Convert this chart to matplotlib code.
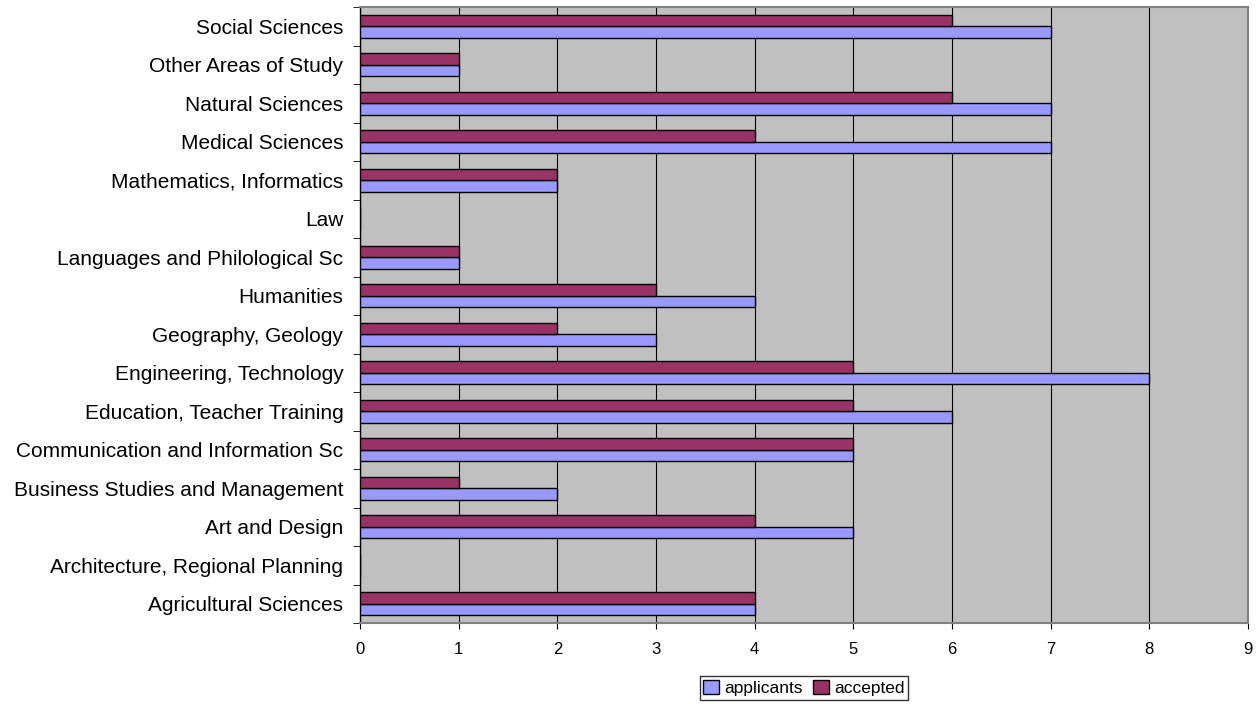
import numpy as np
import matplotlib.pyplot as plt

plt.rcParams['font.family'] = ['Liberation Sans', 'DejaVu Sans']

categories = ['Agricultural Sciences', 'Architecture, Regional Planning', 'Art and Design',
              'Business Studies and Management', 'Communication and Information Sc',
              'Education, Teacher Training', 'Engineering, Technology', 'Geography, Geology',
              'Humanities', 'Languages and Philological Sc', 'Law', 'Mathematics, Informatics',
              'Medical Sciences', 'Natural Sciences', 'Other Areas of Study', 'Social Sciences']
applicants = [4, 0, 5, 2, 5, 6, 8, 3, 4, 1, 0, 2, 7, 7, 1, 7]
accepted = [4, 0, 4, 1, 5, 5, 5, 2, 3, 1, 0, 2, 4, 6, 1, 6]

fig = plt.figure(figsize=(12.59, 7.04), dpi=100)
ax = fig.add_axes([360 / 1259, 1 - 623 / 704, 888 / 1259, 616 / 704])
ax.set_facecolor('#C0C0C0')

idx = np.arange(len(categories))
h = 0.3
ax.barh(idx - h / 2, applicants, height=h, color='#9999FF', edgecolor='black', linewidth=1,
        label='applicants', zorder=3)
ax.barh(idx + h / 2, accepted, height=h, color='#993366', edgecolor='black', linewidth=1,
        label='accepted', zorder=3)

ax.set_xlim(0, 9)
ax.set_ylim(-0.5, len(categories) - 0.5)
ax.set_xticks(range(10))
ax.set_yticks(idx)
ax.set_yticklabels(categories, fontsize=15)
ax.set_yticks(np.arange(-0.5, len(categories), 1), minor=True)
ax.tick_params(axis='y', which='major', length=0, pad=12)
ax.tick_params(axis='y', which='minor', length=5, color='black')
ax.tick_params(axis='x', labelsize=12, length=4, pad=10)
ax.xaxis.grid(True, color='black', linewidth=0.8, zorder=1)
for s in ax.spines.values():
    s.set_color('#808080')
    s.set_linewidth(1.5)
ax.spines['left'].set_color('black')
ax.spines['left'].set_linewidth(1)

fig.legend(loc='center', bbox_to_anchor=(804 / 1259, 1 - 688 / 704), ncol=2, fontsize=12.5,
           frameon=True, fancybox=False, edgecolor='black', handlelength=0.9, handleheight=0.9,
           handletextpad=0.3, columnspacing=0.6, borderpad=0.2, borderaxespad=0)

fig.savefig('out.png', dpi=100)
